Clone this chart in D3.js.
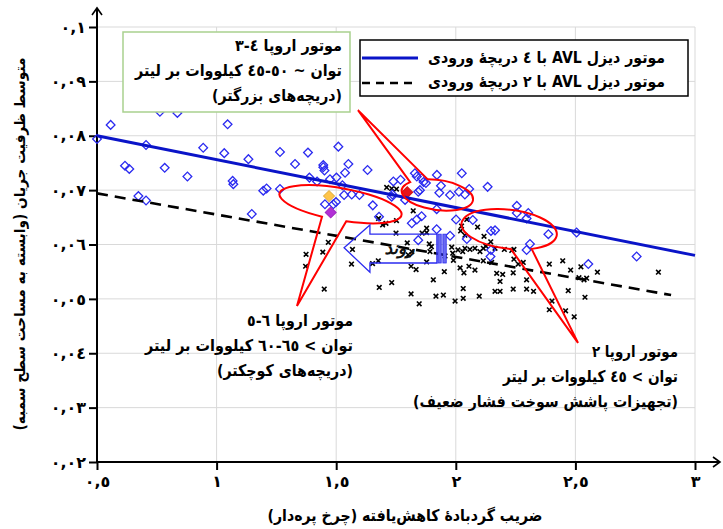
<!DOCTYPE html>
<html><head><meta charset="utf-8">
<script src="https://cdn.jsdelivr.net/npm/d3@7"></script>
<style>
html,body{margin:0;padding:0;background:#fff;}
svg{display:block;font-family:"DejaVu Sans",sans-serif;font-weight:bold;}
</style></head><body>
<svg id="chart" width="723" height="529"></svg>
<script>
// Axis ticks
const xTicks = [0.5, 1, 1.5, 2, 2.5, 3];
const yTicks = [0.02, 0.03, 0.04, 0.05, 0.06, 0.07, 0.08, 0.09, 0.1];

// AVL 4-inlet engines (hollow diamonds)
const fourInletX = [0.500,0.557,0.763,0.836,1.046,0.705,0.944,1.032,1.133,1.265,1.382,1.328,0.617,0.635,0.783,0.878,1.067,1.070,1.195,1.209,1.265,0.673,0.705,1.147,1.509,1.446,1.446,1.451,1.551,1.631,1.537,1.388,1.420,1.474,1.501,1.526,1.533,1.565,1.597,1.453,1.488,1.499,1.653,1.679,1.739,1.769,1.732,1.735,1.829,1.837,1.857,1.865,1.921,2.025,2.133,2.056,2.013,1.976,1.931,1.938,1.850,1.843,1.920,1.788,2.255,2.255,2.303,2.296,2.001,2.071,1.857,1.837,1.816,2.147,2.164,2.046,1.976,1.920,2.387,2.505,1.843,2.310,2.296,2.147,2.145,2.554,2.756,2.038,1.875];
const fourInletY = [0.0794,0.0820,0.0844,0.0842,0.0821,0.0783,0.0778,0.0768,0.0757,0.0770,0.0769,0.0748,0.0745,0.0739,0.0741,0.0725,0.0717,0.0711,0.0699,0.0703,0.0702,0.0689,0.0681,0.0656,0.0780,0.0746,0.0742,0.0736,0.0748,0.0737,0.0732,0.0723,0.0716,0.0720,0.0723,0.0709,0.0691,0.0692,0.0691,0.0674,0.0674,0.0678,0.0672,0.0651,0.0716,0.0719,0.0688,0.0692,0.0731,0.0725,0.0722,0.0715,0.0728,0.0731,0.0706,0.0702,0.0697,0.0691,0.0695,0.0708,0.0700,0.0697,0.0665,0.0682,0.0671,0.0658,0.0658,0.0648,0.0646,0.0645,0.0652,0.0646,0.0639,0.0625,0.0626,0.0610,0.0616,0.0628,0.0619,0.0622,0.0608,0.0601,0.0590,0.0590,0.0578,0.0564,0.0578,0.0692,0.0713];

// AVL 2-inlet engines (crosses)
const twoInletX = [1.711,1.732,1.752,1.822,1.677,1.694,1.708,1.752,1.750,1.467,1.374,1.444,1.568,1.372,1.564,1.652,1.676,1.450,1.680,1.732,1.797,1.816,1.801,1.878,1.878,1.859,1.889,1.898,1.892,1.878,1.813,1.834,1.952,1.906,1.813,1.847,1.917,1.948,1.997,2.024,2.046,2.091,2.020,2.038,2.118,2.146,1.983,1.987,1.990,2.009,2.029,2.038,2.059,2.080,2.101,2.115,2.126,1.955,2.150,2.115,2.164,2.203,2.234,2.243,2.243,2.261,2.282,2.391,2.447,2.480,2.523,2.592,2.515,2.536,2.547,2.470,2.540,2.847,2.018,2.055,2.034,2.080,2.171,2.196,2.240,2.185,2.296,2.031,2.031,2.098,2.164,2.185,2.240,2.296,2.325,2.402,2.391,2.459,2.495];
const twoInletY = [0.0705,0.0703,0.0702,0.0662,0.0648,0.0636,0.0639,0.0644,0.0621,0.0604,0.0582,0.0586,0.0591,0.0560,0.0564,0.0565,0.0570,0.0518,0.0521,0.0530,0.0603,0.0587,0.0581,0.0630,0.0622,0.0621,0.0601,0.0596,0.0587,0.0568,0.0560,0.0554,0.0550,0.0535,0.0509,0.0491,0.0505,0.0507,0.0496,0.0634,0.0646,0.0632,0.0625,0.0617,0.0615,0.0605,0.0595,0.0584,0.0571,0.0590,0.0587,0.0593,0.0591,0.0593,0.0587,0.0593,0.0597,0.0579,0.0567,0.0570,0.0593,0.0591,0.0589,0.0591,0.0573,0.0564,0.0567,0.0564,0.0570,0.0553,0.0559,0.0549,0.0539,0.0535,0.0538,0.0515,0.0503,0.0549,0.0557,0.0560,0.0548,0.0553,0.0547,0.0545,0.0548,0.0532,0.0535,0.0519,0.0501,0.0505,0.0514,0.0514,0.0518,0.0518,0.0514,0.0496,0.0480,0.0478,0.0467];

// Highlighted engines
const highlightX = [1.470, 1.477, 1.797];
const highlightY = [0.0689, 0.0659, 0.0696];
const highlightFill = ["#ffc54a", "#b22fd6", "#e8141a"];

// Trend lines
const fourInletTrendX = [0.5, 3.0];
const fourInletTrendY = [0.0800, 0.0580];
const twoInletTrendX = [0.5, 2.9];
const twoInletTrendY = [0.0694, 0.0507];

// Legend and note text (LRM marks keep number ranges and "<" in reading order)
const LRM = "\u200E";
const legendLabels = ["موتور دیزل AVL با ٤ دریچهٔ ورودی", "موتور دیزل AVL با ٢ دریچهٔ ورودی"];
const euro34Lines = ["موتور اروپا ٣" + LRM + "-" + LRM + "٤",
                     "توان ~ ٤٥" + LRM + "-" + LRM + "٥٠ کیلووات بر لیتر",
                     "(دریچه‌های بزرگتر)"];
const euro56Lines = ["موتور اروپا ٥" + LRM + "-" + LRM + "٦",
                     "توان " + LRM + "<" + LRM + " ٦٠" + LRM + "-" + LRM + "٦٥ کیلووات بر لیتر",
                     "(دریچه‌های کوچکتر)"];
const euro2Lines = ["موتور اروپا ٢",
                    "توان " + LRM + "<" + LRM + " ٤٥ کیلووات بر لیتر",
                    "(تجهیزات پاشش سوخت فشار ضعیف)"];
const xTitle = "ضریب گردبادهٔ کاهش‌یافته (چرخ پره‌دار)";
const yTitle = "متوسط ظرفیت جریان (وابسته به مساحت سطح سمبه)";
const trendLabel = "روند";

const svg = d3.select("#chart");
const x = d3.scaleLinear().domain([0.5, 3]).range([97, 695]);
const y = d3.scaleLinear().domain([0.02, 0.1]).range([462, 27]);

const toFa = s => String(s).replace(/[0-9]/g, d => "٠١٢٣٤٥٦٧٨٩"[+d]).replace(".", ",");

// grid
const grid = svg.append("g").attr("stroke", "#d9d9d9").attr("stroke-width", 1);
grid.selectAll(".gx").data(xTicks.slice(1)).join("line")
  .attr("x1", d => x(d)).attr("x2", d => x(d)).attr("y1", y(0.02)).attr("y2", y(0.1));
grid.selectAll(".gy").data(yTicks.slice(1)).join("line")
  .attr("x1", x(0.5)).attr("x2", x(3)).attr("y1", d => y(d)).attr("y2", d => y(d));

// axes
const xAxis = svg.append("g").attr("transform", `translate(0,${y(0.02)})`)
  .call(d3.axisBottom(x).tickValues(xTicks).tickSize(8).tickPadding(6).tickFormat(d => toFa(d3.format(".1~f")(d))));
const yAxis = svg.append("g").attr("transform", `translate(${x(0.5)},0)`)
  .call(d3.axisLeft(y).tickValues(yTicks).tickSize(8).tickPadding(3).tickFormat(d => toFa(d3.format(".2~f")(d))));
[xAxis, yAxis].forEach(g => {
  g.select(".domain").remove();
  g.selectAll(".tick line").attr("stroke", "#000").attr("stroke-width", 2);
  g.selectAll(".tick text").attr("font-size", 16).attr("font-weight", "bold").attr("fill", "#000")
    .attr("font-family", '"DejaVu Sans",sans-serif');
});
svg.append("line").attr("x1", x(0.5)).attr("x2", 720).attr("y1", y(0.02)).attr("y2", y(0.02))
  .attr("stroke", "#000").attr("stroke-width", 2);
svg.append("line").attr("x1", x(0.5)).attr("x2", x(0.5)).attr("y1", y(0.02)).attr("y2", 8)
  .attr("stroke", "#000").attr("stroke-width", 2);
svg.append("path").attr("d", `M${x(0.5)-5},15L${x(0.5)},8L${x(0.5)+5},15`)
  .attr("fill", "none").attr("stroke", "#000").attr("stroke-width", 1.6);
svg.append("path").attr("d", `M713,${y(0.02)-5}L720,${y(0.02)}L713,${y(0.02)+5}`)
  .attr("fill", "none").attr("stroke", "#000").attr("stroke-width", 1.6);

// crosses
const crossPath = "M-2.3,-2.3L2.3,2.3M-2.3,2.3L2.3,-2.3";
svg.append("g").selectAll("path").data(d3.range(twoInletX.length)).join("path")
  .attr("d", crossPath)
  .attr("transform", i => `translate(${x(twoInletX[i])},${y(twoInletY[i])})`)
  .attr("stroke", "#000").attr("stroke-width", 1.6);

// diamonds
const diamond = d3.symbol(d3.symbolSquare, 38)();
svg.append("g").selectAll("path").data(d3.range(fourInletX.length)).join("path")
  .attr("d", diamond)
  .attr("transform", i => `translate(${x(fourInletX[i])},${y(fourInletY[i])}) rotate(45)`)
  .attr("fill", "none").attr("stroke", "#2b2bf0").attr("stroke-width", 1.3);

// highlighted
svg.append("g").selectAll("path").data(d3.range(highlightX.length)).join("path")
  .attr("d", d3.symbol(d3.symbolSquare, 60)())
  .attr("transform", i => `translate(${x(highlightX[i])},${y(highlightY[i])}) rotate(45)`)
  .attr("fill", i => highlightFill[i]).attr("stroke", i => d3.color(highlightFill[i]).darker(0.3)).attr("stroke-width", 1);

// trend lines
const line = d3.line().x(d => x(d[0])).y(d => y(d[1]));
svg.append("path").attr("d", line(d3.zip(fourInletTrendX, fourInletTrendY)))
  .attr("stroke", "#0a14c8").attr("stroke-width", 3).attr("fill", "none");
svg.append("path").attr("d", line(d3.zip(twoInletTrendX, twoInletTrendY)))
  .attr("stroke", "#000").attr("stroke-width", 2.6).attr("stroke-dasharray", "11,7").attr("fill", "none");

// callouts: ellipse (centre, radii, rotation) with a wedge to a tip
const callouts = [
  {cx: 1.518, cy: 0.0674, rx: 62, ry: 16, rot: 10, t1: 82, t2: 105, tx: 1.336, ty: 0.0487},
  {cx: 1.923, cy: 0.0691, rx: 36, ry: 15, rot: 8, t1: -143, t2: -109, tx: 1.591, ty: 0.0847},
  {cx: 2.223, cy: 0.0628, rx: 48, ry: 19.5, rot: 7, t1: 59, t2: 85, tx: 2.511, ty: 0.0419}
];
function calloutPath(c) {
  const cx = x(c.cx), cy = y(c.cy), r = c.rot * Math.PI / 180;
  const pt = t => {
    const a = t * Math.PI / 180, lx = c.rx * Math.cos(a), ly = c.ry * Math.sin(a);
    return [cx + lx * Math.cos(r) - ly * Math.sin(r), cy + lx * Math.sin(r) + ly * Math.cos(r)];
  };
  const A = pt(c.t1), B = pt(c.t2);
  return `M${A}L${x(c.tx)},${y(c.ty)}L${B}A${c.rx},${c.ry} ${c.rot} 1 1 ${A}Z`;
}
svg.append("g").selectAll("path").data(callouts).join("path")
  .attr("d", calloutPath).attr("fill", "none").attr("stroke", "#ff0000").attr("stroke-width", 2);

// trend arrow
const ax0 = x(1.533), axHead = x(1.641), axEnd = x(1.921);
const ayMid = y(0.0594), ayHT = y(0.0636), ayHB = y(0.0549), aySt = y(0.0619), aySb = y(0.0566);
svg.append("path")
  .attr("d", `M${ax0},${ayMid}L${axHead},${ayHT}L${axHead},${aySt}L${axEnd},${aySt}L${axEnd},${aySb}L${axHead},${aySb}L${axHead},${ayHB}Z`)
  .attr("fill", "none").attr("stroke", "#2b2bf0").attr("stroke-width", 1.3);
[[1.925, 1.939], [1.946, 1.960]].forEach(b => {
  svg.append("rect").attr("x", x(b[0])).attr("width", x(b[1]) - x(b[0]))
    .attr("y", aySt).attr("height", aySb - aySt)
    .attr("fill", "#6b6bf0").attr("stroke", "#2b2bf0").attr("stroke-width", 0.8);
});
svg.append("text").attr("x", (axHead + axEnd) / 2 - 4).attr("y", ayMid + 6)
  .attr("text-anchor", "middle").attr("font-size", 17).attr("font-style", "italic")
  .attr("fill", "#111").text(trendLabel);

// text helper: right-aligned RTL line fitted to a given width
function rtlText(g, str, rx, by, size, width) {
  const t = g.append("text").attr("x", rx).attr("y", by)
    .attr("direction", "rtl").attr("text-anchor", "start")
    .attr("font-size", size).attr("fill", "#000").text(str);
  if (width) t.attr("textLength", width).attr("lengthAdjust", "spacingAndGlyphs");
  return t;
}

// legend
svg.append("rect").attr("x", 360).attr("y", 40).attr("width", 328).attr("height", 56)
  .attr("fill", "#fff").attr("stroke", "#000").attr("stroke-width", 1.5);
svg.append("line").attr("x1", 362).attr("x2", 418).attr("y1", 58).attr("y2", 58)
  .attr("stroke", "#0a14c8").attr("stroke-width", 3);
svg.append("line").attr("x1", 362).attr("x2", 418).attr("y1", 83).attr("y2", 83)
  .attr("stroke", "#000").attr("stroke-width", 2.6).attr("stroke-dasharray", "8,6");
const lg = svg.append("g");
legendLabels.forEach((s, i) => rtlText(lg, s, 665, 63 + i * 24, 16, 237));

// note boxes
svg.append("rect").attr("x", 123).attr("y", 32).attr("width", 227).attr("height", 80)
  .attr("fill", "#fff").attr("stroke", "#a9d18e").attr("stroke-width", 1.5);
function textBlock(lines, widths, rx, y0) {
  const g = svg.append("g");
  lines.forEach((s, i) => rtlText(g, s, rx, y0 + i * 25, 16, widths[i]));
}
textBlock(euro34Lines, [107, 207, 130], 342, 51);
textBlock(euro56Lines, [106, 208, 136], 353, 326);
textBlock(euro2Lines, [86, 175, 265], 678, 357);

// axis titles
svg.append("text").attr("x", 405).attr("y", 521).attr("text-anchor", "middle")
  .attr("direction", "rtl").attr("font-size", 16).attr("fill", "#000")
  .attr("textLength", 275).attr("lengthAdjust", "spacingAndGlyphs").text(xTitle);
svg.append("text").attr("transform", "translate(25,244) rotate(-90)").attr("text-anchor", "middle")
  .attr("direction", "rtl").attr("font-size", 15).attr("fill", "#000")
  .attr("textLength", 373).attr("lengthAdjust", "spacingAndGlyphs").text(yTitle);
</script>
</body></html>
